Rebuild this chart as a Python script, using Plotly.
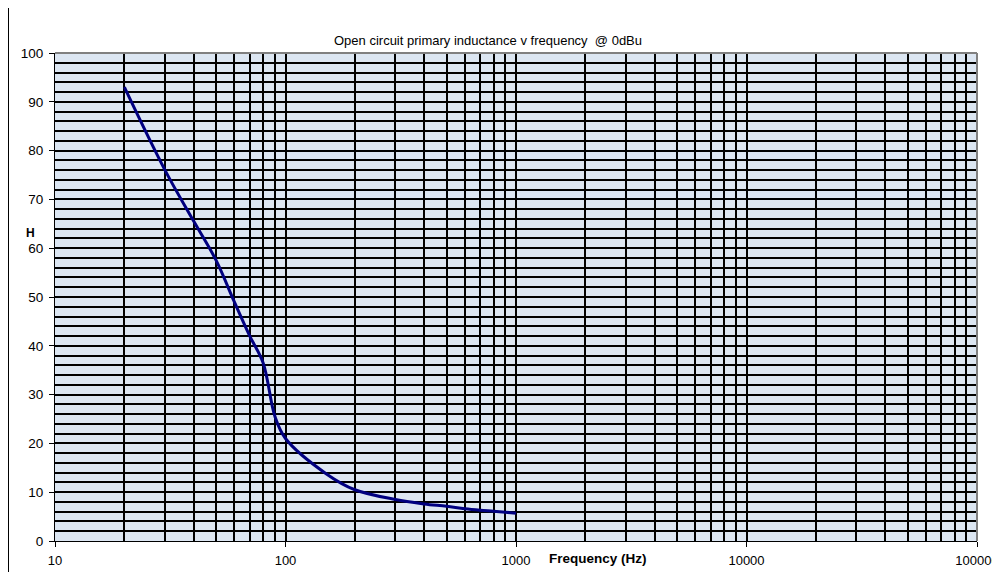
import plotly.graph_objects as go

freq_hz = [20, 30, 40, 50, 60, 70, 80, 90, 100, 150, 200, 300, 400, 500, 600, 700, 800, 900, 1000]
inductance_h = [93, 76, 65.5, 57.5, 49, 42, 36.5, 25.5, 21, 13.8, 10.5, 8.5, 7.6, 7.1, 6.6, 6.3, 6.1, 5.9, 5.7]

major_x = [10, 100, 1000, 10000, 100000]
major_x_text = ["10", "100", "1000", "10000", "100000"]
minor_x = [m * d for d in [10, 100, 1000, 10000] for m in range(2, 10)]

title_text = "Open circuit primary inductance v frequency  @ 0dBu"
x_title = "Frequency (Hz)"
y_title = "H"

FONT = "Liberation Sans, Arial, sans-serif"

# page offset (browser body margin)
OFF = 8
PL, PR, PT, PB = 55, 977, 53, 541  # plot area in screenshot pixels
W, H = 1000, 572
pw, ph = PR - PL, PB - PT

fig = go.Figure()
fig.add_trace(go.Scatter(
    x=freq_hz, y=inductance_h, mode="lines",
    line=dict(color="#000080", width=3, shape="spline", smoothing=1.0),
    showlegend=False, hoverinfo="skip"))

fig.update_layout(
    width=W, height=H,
    margin=dict(l=PL - OFF, r=W + OFF - PR, t=PT - OFF, b=H + OFF - PB, autoexpand=False),
    paper_bgcolor="white", plot_bgcolor="#DCE6F2",
    font=dict(family=FONT, size=13, color="black"),
    showlegend=False,
)
fig.update_xaxes(
    type="log", range=[1, 5], automargin=False,
    tickmode="array", tickvals=major_x, ticktext=major_x_text,
    ticks="outside", ticklen=5, tickcolor="black", ticklabelstandoff=2,
    showgrid=True, gridcolor="black", gridwidth=1.5,
    showline=True, linecolor="black", linewidth=1,
    zeroline=False,
    minor=dict(tickmode="array", tickvals=minor_x, showgrid=True,
               gridcolor="black", gridwidth=1.5, ticks=""),
    tickfont=dict(size=13),
)
fig.update_yaxes(
    range=[0, 100], tickmode="linear", tick0=0, dtick=10, automargin=False,
    ticks="outside", ticklen=5, tickcolor="black", ticklabelstandoff=3,
    showgrid=True, gridcolor="black", gridwidth=1.5,
    showline=True, linecolor="black", linewidth=1,
    zeroline=False,
    minor=dict(dtick=2, showgrid=True, gridcolor="black", gridwidth=1.5, ticks=""),
    tickfont=dict(size=13.5),
)

def px_x(x):
    return (x - PL) / pw

def px_y(y):
    return (PB - y) / ph

# gray plot-area border top and right
fig.add_shape(type="line", xref="paper", yref="paper", x0=0, x1=1, y0=1, y1=1,
              line=dict(color="#808080", width=2), layer="above")
fig.add_shape(type="line", xref="paper", yref="paper", x0=1, x1=1, y0=0, y1=1,
              line=dict(color="#808080", width=2), layer="above")
# chart-area frame (left edge)
fig.add_shape(type="line", xref="paper", yref="paper",
              x0=px_x(OFF + 0.5), x1=px_x(OFF + 0.5), y0=px_y(H + 20), y1=px_y(-20),
              line=dict(color="black", width=1), layer="above")

fig.add_annotation(text=title_text, xref="paper", yref="paper",
                   x=px_x(488), y=px_y(40),
                   xanchor="center", yanchor="middle", showarrow=False,
                   font=dict(size=13, family=FONT))
fig.add_annotation(text="<b>" + x_title + "</b>", xref="paper", yref="paper",
                   x=px_x(598), y=px_y(558),
                   xanchor="center", yanchor="middle", showarrow=False,
                   font=dict(size=13.5, family=FONT))
fig.add_annotation(text="<b>" + y_title + "</b>", xref="paper", yref="paper",
                   x=px_x(30), y=px_y(233),
                   xanchor="center", yanchor="middle", showarrow=False,
                   font=dict(size=12, family=FONT))

fig.write_html("out.html")
